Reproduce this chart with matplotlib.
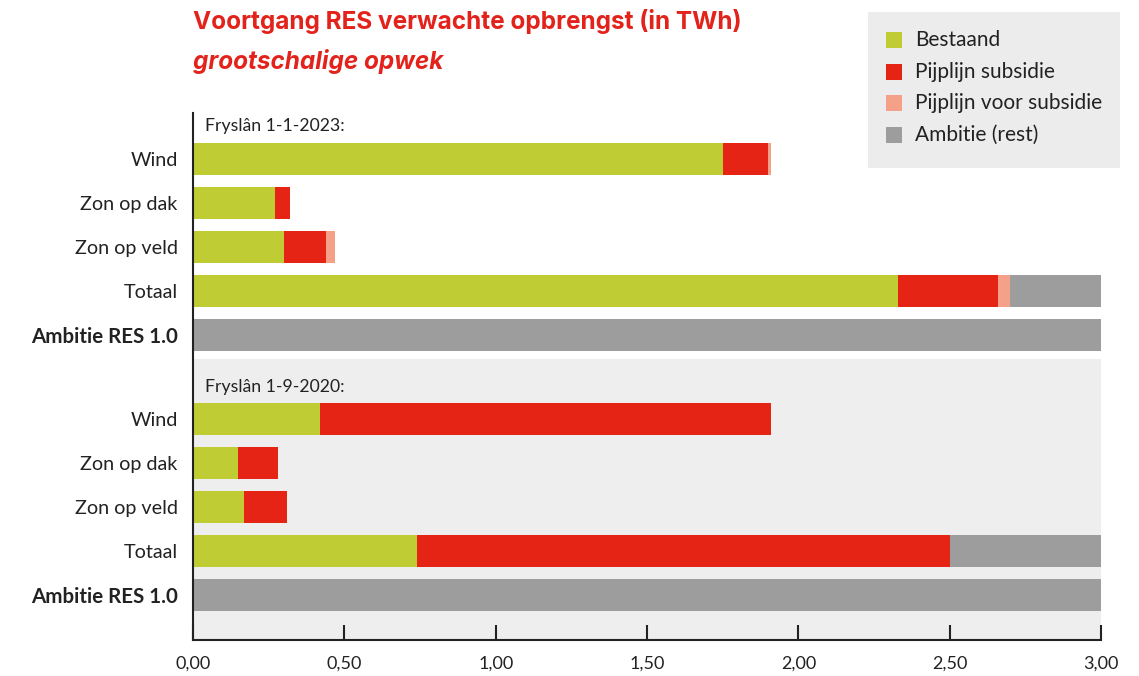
import matplotlib
matplotlib.use("Agg")
import matplotlib.pyplot as plt
from matplotlib.patches import Rectangle
import numpy as np

plt.rcParams['font.family'] = ['Lato', 'DejaVu Sans']

categories = ["Wind", "Zon op dak", "Zon op veld", "Totaal", "Ambitie RES 1.0"]
series_names = ["Bestaand", "Pijplijn subsidie", "Pijplijn voor subsidie", "Ambitie (rest)"]
colors = ["#bfcc33", "#e52416", "#f5a189", "#9d9d9d"]

# Fryslân 1-1-2023
bestaand_2023 = [1.75, 0.27, 0.30, 2.33, 0.00]
subsidie_2023 = [0.15, 0.05, 0.14, 0.33, 0.00]
voor_sub_2023 = [0.01, 0.00, 0.03, 0.04, 0.00]
rest_2023 = [0.00, 0.00, 0.00, 0.30, 3.00]

# Fryslân 1-9-2020
bestaand_2020 = [0.42, 0.15, 0.17, 0.74, 0.00]
subsidie_2020 = [1.49, 0.13, 0.14, 1.76, 0.00]
voor_sub_2020 = [0.00, 0.00, 0.00, 0.00, 0.00]
rest_2020 = [0.00, 0.00, 0.00, 0.50, 3.00]

section_labels = ["Fryslân 1-1-2023:", "Fryslân 1-9-2020:"]
xticks = [0, 0.5, 1.0, 1.5, 2.0, 2.5, 3.0]
xtick_labels = ["0,00", "0,50", "1,00", "1,50", "2,00", "2,50", "3,00"]

fig = plt.figure(figsize=(11.39, 6.76), dpi=100)
ax = fig.add_axes([193/1139, 36/676, 908/1139, 527/676])

bar_h = 0.73
pos_top = np.arange(5) + 1.045
pos_bot = np.arange(5) + 6.95
ylim_bottom = 527/44

# grey background for the 2020 section
ax.axhspan(5.59, ylim_bottom, color="#eeeeee", zorder=0, lw=0)

for pos, data in [(pos_top, [bestaand_2023, subsidie_2023, voor_sub_2023, rest_2023]),
                  (pos_bot, [bestaand_2020, subsidie_2020, voor_sub_2020, rest_2020])]:
    left = np.zeros(5)
    for vals, c in zip(data, colors):
        v = np.array(vals)
        ax.barh(pos, v, left=left, height=bar_h, color=c, lw=0, zorder=2)
        left = left + v

ax.set_xlim(0, 3.0)
ax.set_ylim(ylim_bottom, 0)

allpos = list(pos_top) + list(pos_bot)
ax.set_yticks(allpos)
ax.set_yticklabels(categories + categories)
for i, lab in enumerate(ax.get_yticklabels()):
    lab.set_color("#222222")
    if i % 5 == 4:
        lab.set_fontweight("bold")
        lab.set_fontsize(14.8)
    else:
        lab.set_fontsize(14.2)
ax.tick_params(axis='y', length=0, pad=11)

ax.set_xticks(xticks)
ax.set_xticklabels(xtick_labels, fontsize=13, color="#222222")
ax.tick_params(axis='x', direction='in', length=11, width=1.5, pad=11, color="#222222")

for s in ["top", "right"]:
    ax.spines[s].set_visible(False)
for s in ["left", "bottom"]:
    ax.spines[s].set_linewidth(1.5)
    ax.spines[s].set_color("#222222")

ax.text(0.04, 0.3, section_labels[0], fontsize=12.7, color="#222222", va="center", ha="left")
ax.text(0.04, 6.23, section_labels[1], fontsize=12.7, color="#222222", va="center", ha="left")

# title
fig.text(193/1139, 1 - 22/676, "Voortgang RES verwachte opbrengst (in TWh)", fontsize=17.5,
         fontweight="bold", color="#e3231b", va="center", ha="left", family=["Inter", "DejaVu Sans"])
fig.text(193/1139, 1 - 62/676, "grootschalige opwek", fontsize=17.5, fontweight="bold",
         fontstyle="italic", color="#e3231b", va="center", ha="left", family=["Inter", "DejaVu Sans"])

# legend box
fig.patches.append(Rectangle((868/1139, 1 - 168/676), 252/1139, 156/676,
                             transform=fig.transFigure, facecolor="#ececec", edgecolor="none", zorder=5))
rows_y = [40, 72, 103, 135]
for name, c, yy in zip(series_names, colors, rows_y):
    fig.patches.append(Rectangle((886/1139, 1 - (yy + 8)/676), 16/1139, 16/676,
                                 transform=fig.transFigure, facecolor=c, edgecolor="none", zorder=6))
    fig.text(915/1139, 1 - yy/676, name, fontsize=15, color="#222222", va="center", ha="left", zorder=7)

fig.savefig("out.png", dpi=100)
